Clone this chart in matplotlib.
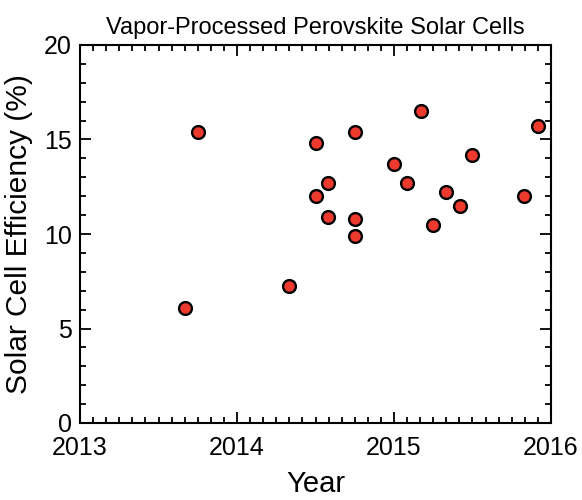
import matplotlib
matplotlib.use('Agg')
import matplotlib.pyplot as plt
from matplotlib.ticker import MultipleLocator

plt.rcParams['font.family'] = ['Liberation Sans', 'DejaVu Sans']

# publication date (decimal year) and efficiency (%)
year = [2013.67, 2013.75, 2014.33, 2014.50, 2014.50, 2014.58, 2014.58,
        2014.75, 2014.75, 2014.75, 2015.00, 2015.08, 2015.17, 2015.25,
        2015.33, 2015.42, 2015.50, 2015.83, 2015.92]
efficiency = [6.1, 15.4, 7.25, 14.8, 12.0, 12.7, 10.9,
              15.4, 10.8, 9.9, 13.7, 12.7, 16.5, 10.5,
              12.2, 11.5, 14.2, 12.0, 15.7]

fig = plt.figure(figsize=(5.82, 5.0), dpi=100)
ax = fig.add_axes([0.1375, 0.154, 0.8092, 0.756])

ax.scatter(year, efficiency, s=85, c='#ee3a2e', edgecolors='black',
           linewidths=1.7, zorder=3, clip_on=False)

ax.set_xlim(2013, 2016)
ax.set_ylim(0, 20)
ax.xaxis.set_major_locator(MultipleLocator(1))
ax.xaxis.set_minor_locator(MultipleLocator(1 / 12))
ax.yaxis.set_major_locator(MultipleLocator(5))
ax.yaxis.set_minor_locator(MultipleLocator(1))
ax.xaxis.set_major_formatter(plt.FuncFormatter(lambda v, p: '%d' % round(v)))

for s in ax.spines.values():
    s.set_linewidth(1.5)
ax.tick_params(which='both', direction='in', top=True, right=True,
               width=1.3, labelsize=18)
ax.tick_params(which='major', length=8)
ax.tick_params(which='minor', length=4)
ax.tick_params(axis='x', which='major', pad=9.5)
ax.tick_params(axis='y', which='major', pad=6)

ax.set_title('Vapor-Processed Perovskite Solar Cells', fontsize=17, pad=8)
ax.set_xlabel('Year', fontsize=21, labelpad=7)
ax.set_ylabel('Solar Cell Efficiency (%)', fontsize=21.5, labelpad=8)

fig.savefig('out.png', dpi=100)
